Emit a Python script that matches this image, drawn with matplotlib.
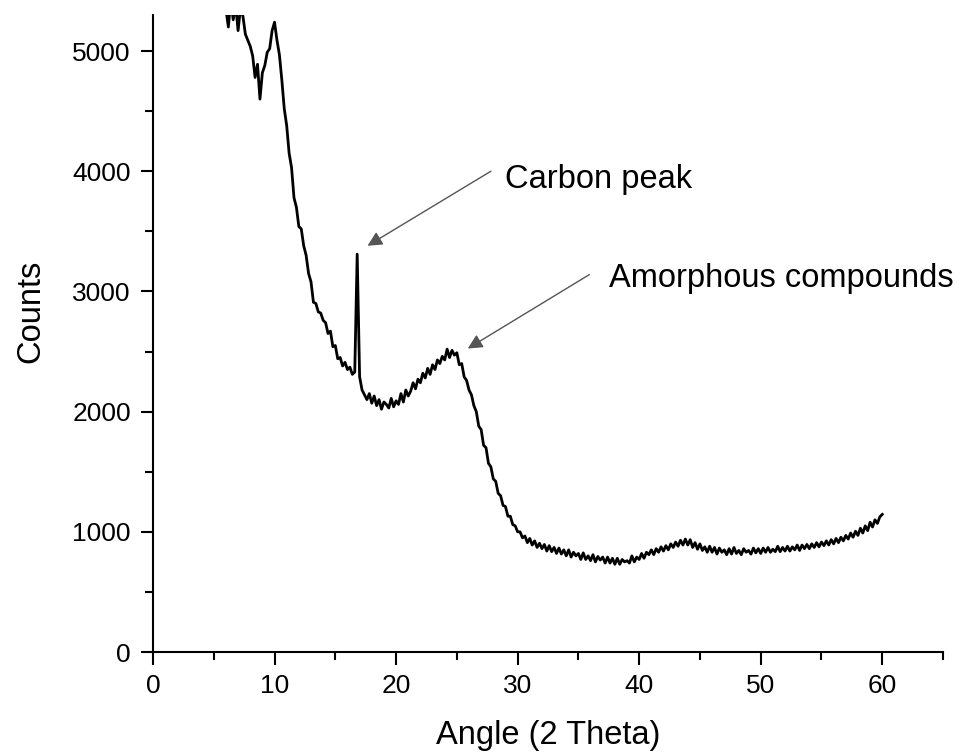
import numpy as np
import matplotlib
matplotlib.use("Agg")
import matplotlib.pyplot as plt
from matplotlib.ticker import MultipleLocator

plt.rcParams['font.family'] = ['Liberation Sans', 'DejaVu Sans']

# 2-theta grid, 0.2 deg steps from 6 to 60
angle = np.round(np.arange(6.0, 60.0001, 0.2), 1)

# counts, one row per 2 degrees
counts = [
    5350, 5200, 5420, 5260, 5390, 5170, 5360, 5290, 5140, 5090,   # 6
    5040, 4960, 4780, 4890, 4600, 4820, 4880, 4990, 5020, 5170,   # 8
    5240, 5090, 4970, 4760, 4520, 4380, 4150, 4030, 3780, 3700,   # 10
    3540, 3520, 3380, 3300, 3150, 3080, 2910, 2900, 2830, 2820,   # 12
    2760, 2740, 2650, 2670, 2540, 2550, 2440, 2450, 2380, 2410,   # 14
    2350, 2370, 2310, 2330, 3310, 2290, 2180, 2140, 2100, 2150,   # 16
    2070, 2130, 2050, 2100, 2020, 2080, 2060, 2030, 2110, 2040,   # 18
    2090, 2060, 2150, 2080, 2180, 2130, 2170, 2240, 2190, 2270,   # 20
    2240, 2320, 2280, 2360, 2310, 2390, 2350, 2430, 2400, 2460,   # 22
    2430, 2520, 2450, 2510, 2470, 2490, 2390, 2400, 2290, 2260,   # 24
    2180, 2140, 2050, 2000, 1880, 1850, 1720, 1700, 1570, 1540,   # 26
    1440, 1420, 1320, 1300, 1220, 1210, 1130, 1130, 1060, 1050,   # 28
    1000, 1000, 950, 965, 910, 945, 890, 925, 870, 905,           # 30
    860, 895, 840, 885, 835, 870, 820, 865, 815, 850,             # 32
    800, 850, 790, 830, 800, 820, 770, 825, 770, 800,             # 34
    760, 810, 750, 795, 765, 790, 740, 790, 740, 780,             # 36
    730, 780, 730, 770, 750, 760, 740, 800, 750, 790,             # 38
    770, 820, 780, 830, 810, 850, 810, 860, 830, 875,             # 40
    840, 885, 850, 900, 870, 915, 880, 930, 890, 940,             # 42
    890, 935, 870, 910, 855, 900, 845, 875, 830, 880,             # 44
    830, 870, 815, 865, 830, 850, 810, 860, 815, 870,             # 46
    820, 845, 810, 860, 830, 845, 815, 865, 825, 860,             # 48
    820, 865, 830, 870, 830, 855, 835, 880, 835, 870,             # 50
    840, 880, 840, 875, 850, 890, 845, 890, 860, 895,             # 52
    860, 900, 870, 910, 875, 915, 885, 925, 890, 935,             # 54
    900, 945, 910, 955, 925, 970, 940, 990, 955, 1005,            # 56
    970, 1030, 990, 1050, 1010, 1080, 1040, 1100, 1070, 1125,     # 58
    1145,                                                         # 60
]

labels = ["Carbon peak", "Amorphous compounds"]
label_xy = [(29.0, 3935), (37.5, 3105)]
arrow_from = [(27.8, 4000), (35.9, 3140)]
arrow_to = [(17.65, 3380), (25.9, 2525)]

fig = plt.figure(figsize=(9.61, 7.53), dpi=100)
ax = fig.add_axes([0.1592, 0.1341, 0.8221, 0.8460])

ax.plot(angle, counts, color='black', lw=2.0)

ax.set_xlim(0, 65)
ax.set_ylim(0, 5300)
ax.xaxis.set_major_locator(MultipleLocator(10))
ax.xaxis.set_minor_locator(MultipleLocator(5))
ax.yaxis.set_major_locator(MultipleLocator(1000))
ax.yaxis.set_minor_locator(MultipleLocator(500))

for side in ['top', 'right']:
    ax.spines[side].set_visible(False)
for side in ['left', 'bottom']:
    ax.spines[side].set_linewidth(1.5)

ax.tick_params(which='major', direction='out', length=9, width=1.5,
               labelsize=19, pad=7)
ax.tick_params(which='minor', direction='out', length=5.5, width=1.5)

ax.set_xlabel("Angle (2 Theta)", fontsize=23.5, labelpad=16)
ax.set_ylabel("Counts", fontsize=23.5)
ax.yaxis.set_label_coords(-0.135, 0.534)

for txt, pos, a, b in zip(labels, label_xy, arrow_from, arrow_to):
    ax.annotate("", xy=b, xytext=a,
                arrowprops=dict(arrowstyle='-|>', color='#555555', lw=1.0,
                                mutation_scale=22, shrinkA=0, shrinkB=0))
    ax.text(pos[0], pos[1], txt, fontsize=23.5, ha='left', va='center')

plt.savefig("out.png", dpi=100)
